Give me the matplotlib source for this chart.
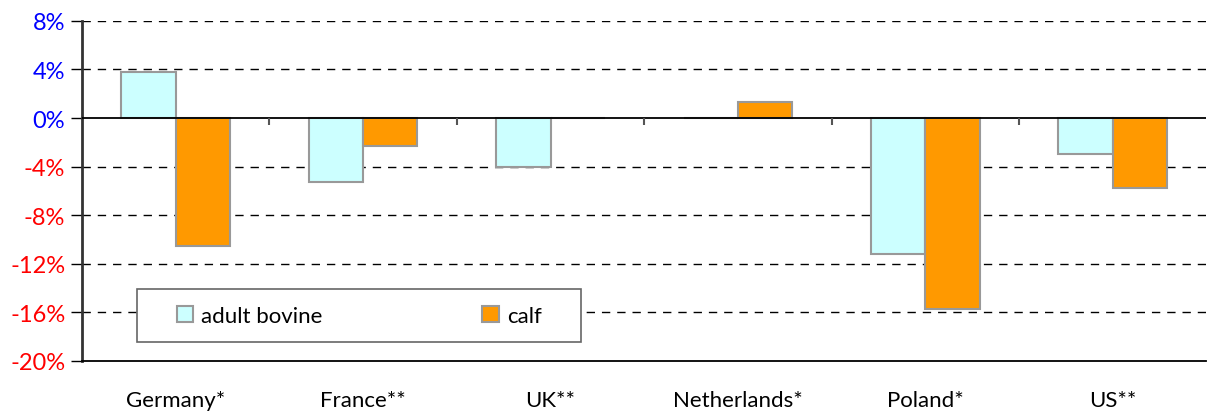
import numpy as np
import matplotlib.pyplot as plt

plt.rcParams['font.family'] = ['Lato', 'DejaVu Sans']

countries = ['Germany*', 'France**', 'UK**', 'Netherlands*', 'Poland*', 'US**']
adult_bovine = [3.8, -5.3, -4.0, 0.0, -11.2, -3.0]
calf = [-10.5, -2.3, 0.0, 1.3, -15.7, -5.8]
y_ticks = [8, 4, 0, -4, -8, -12, -16, -20]

fig = plt.figure(figsize=(12.13, 4.14), dpi=100)
ax = fig.add_axes([0.0676, 0.126, 0.927, 0.821])

x = np.arange(len(countries))
w = 0.29
ax.bar(x - w / 2, adult_bovine, w, color='#CCFFFF', edgecolor='#999999',
       linewidth=1.5, label='adult bovine', zorder=3)
ax.bar(x + w / 2, calf, w, color='#FF9900', edgecolor='#999999',
       linewidth=1.5, label='calf', zorder=3)

ax.set_xlim(-0.5, len(countries) - 0.5)
ax.set_ylim(-20, 8)
ax.set_yticks(y_ticks)
ax.set_yticklabels([f'{t}%' for t in y_ticks], fontsize=17)
for lab, t in zip(ax.get_yticklabels(), y_ticks):
    lab.set_color('#0000FF' if t >= 0 else '#FF0000')

# dashed grid, solid zero line
for t in y_ticks:
    if t == 0:
        ax.axhline(0, color='black', linewidth=1.3, zorder=4)
    elif t > -20:
        ax.axhline(t, color='black', linewidth=1, linestyle=(0, (6, 5)), zorder=1)

# small category separators hanging off the zero line
bounds = x[:-1] + 0.5
ax.vlines(bounds, -0.6, 0, color='#555555', linewidth=1.5, zorder=4)

ax.set_xticks(x)
ax.set_xticklabels(countries, fontsize=16)
ax.tick_params(axis='x', length=0, pad=21)
ax.tick_params(axis='y', length=8, width=1, direction='out', pad=4)

for s in ['top', 'right']:
    ax.spines[s].set_visible(False)
ax.spines['left'].set_color('#333333')
ax.spines['left'].set_linewidth(2)
ax.spines['bottom'].set_linewidth(1.3)

# legend entries centred inside a wider white box
box_x, box_y, box_w = 0.049, 0.054, 0.395
leg = ax.legend(loc='lower left', bbox_to_anchor=(box_x, box_y), ncol=2,
                fontsize=16, frameon=False, columnspacing=7.2,
                handlelength=0.75, handleheight=0.75, handletextpad=0.35,
                borderpad=0.75, borderaxespad=0)
leg.set_zorder(5)
fig.canvas.draw()
bb = leg.get_window_extent()
inv = ax.transAxes.inverted()
(x0, y0), (x1, y1) = inv.transform([[bb.x0, bb.y0], [bb.x1, bb.y1]])
ax.add_patch(plt.Rectangle((box_x, box_y), box_w, y1 - y0, transform=ax.transAxes,
                           facecolor='white', edgecolor='#666666', linewidth=1.2,
                           zorder=4.9))
leg.set_bbox_to_anchor((box_x + (box_w - (x1 - x0)) / 2, box_y), transform=ax.transAxes)

fig.savefig('out.png', dpi=100)
